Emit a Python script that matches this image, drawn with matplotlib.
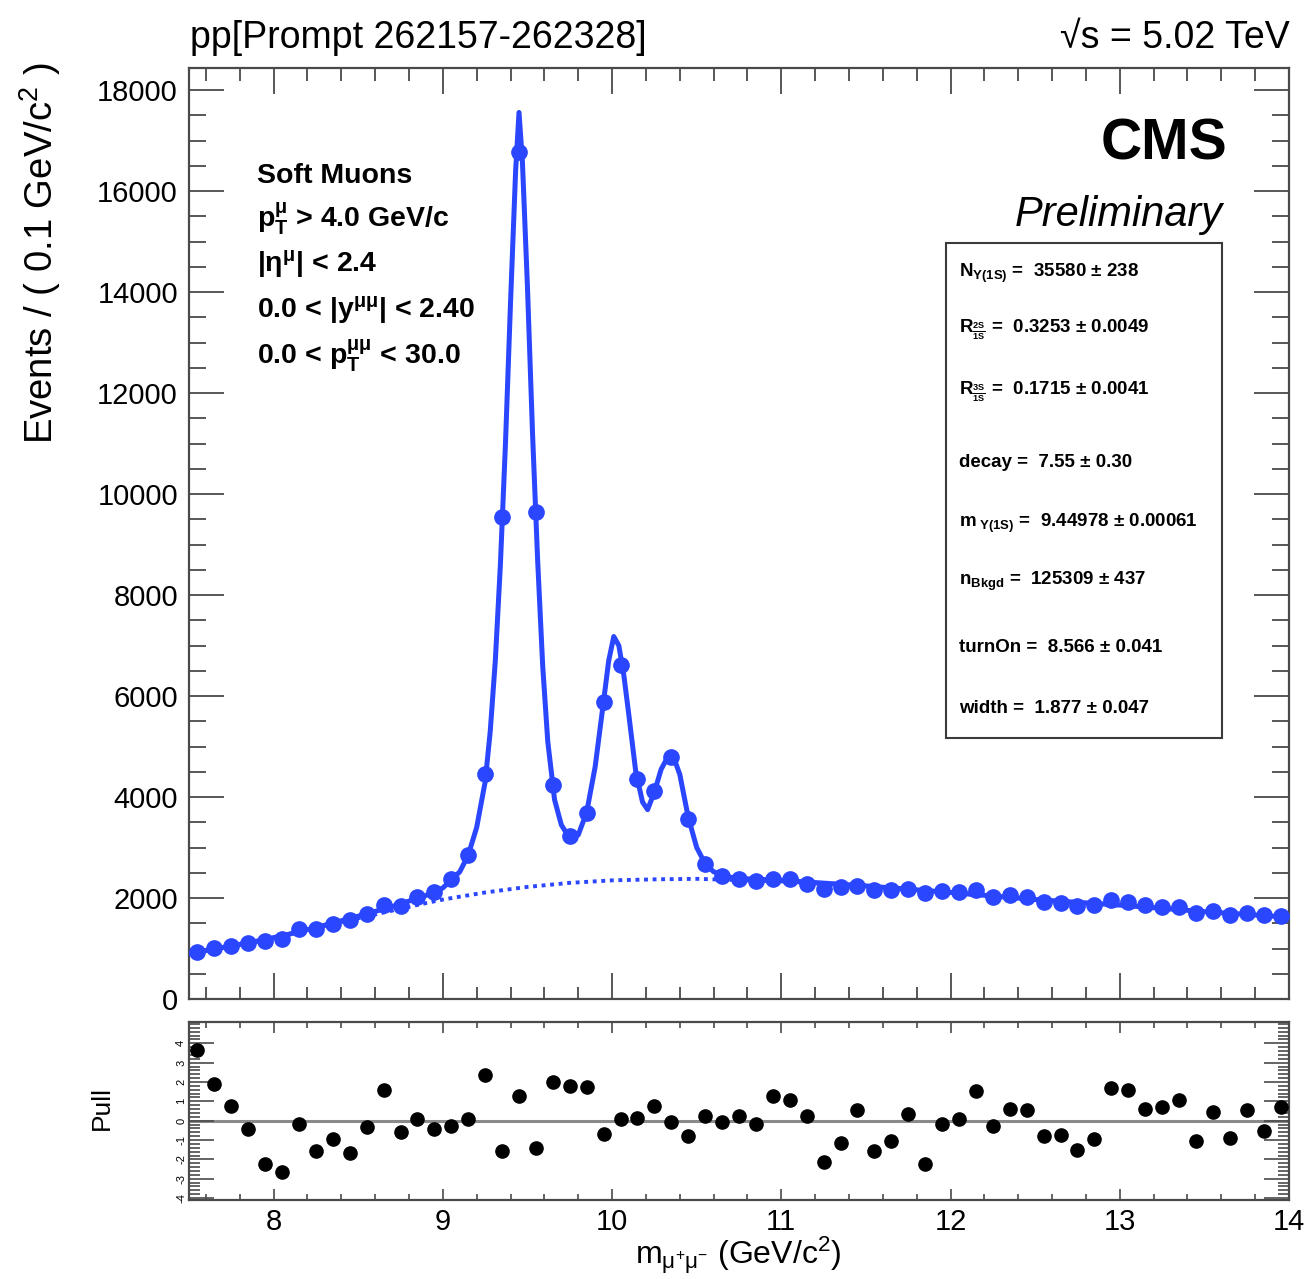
import numpy as np
import matplotlib
matplotlib.use("Agg")
import matplotlib.pyplot as plt
from matplotlib.ticker import MultipleLocator, FixedLocator, NullFormatter

plt.rcParams['font.family'] = ['Liberation Sans', 'DejaVu Sans']
plt.rcParams['mathtext.fontset'] = 'custom'
plt.rcParams['mathtext.rm'] = 'Liberation Sans'
plt.rcParams['mathtext.it'] = 'Liberation Sans:italic'
plt.rcParams['mathtext.bf'] = 'Liberation Sans:bold'
plt.rcParams['mathtext.default'] = 'regular'

# ---------------- data ----------------
mass_centers = np.round(np.arange(7.55, 14.0, 0.1), 2)   # 0.1 GeV bins, 7.5-14

events = [940, 1020, 1040, 1100, 1140, 1190, 1380, 1390, 1480, 1560,
          1690, 1860, 1840, 2020, 2120, 2370, 2860, 4460, 9540, 16770,
          9640, 4240, 3230, 3680, 5880, 6610, 4360, 4120, 4790, 3560,
          2670, 2440, 2380, 2330, 2370, 2370, 2280, 2170, 2220, 2240,
          2150, 2160, 2180, 2090, 2130, 2110, 2160, 2020, 2060, 2020,
          1920, 1900, 1840, 1860, 1960, 1920, 1860, 1820, 1820, 1700,
          1740, 1660, 1700, 1660, 1640]

pulls = [3.66, 1.91, 0.74, -0.43, -2.22, -2.66, -0.15, -1.58, -0.95, -1.67,
         -0.33, 1.60, -0.60, 0.09, -0.41, -0.26, 0.10, 2.34, -1.58, 1.25,
         -1.41, 1.98, 1.80, 1.72, -0.69, 0.09, 0.14, 0.74, -0.07, -0.77,
         0.26, -0.09, 0.22, -0.17, 1.25, 1.08, 0.26, -2.15, -1.15, 0.57,
         -1.58, -1.07, 0.34, -2.22, -0.17, 0.10, 1.51, -0.26, 0.62, 0.57,
         -0.81, -0.72, -1.49, -0.95, 1.68, 1.60, 0.62, 0.70, 1.05, -1.07,
         0.43, -0.89, 0.53, -0.55, 0.70]

fit_x = [7.5, 7.7, 7.9, 8.1, 8.3, 8.5, 8.7, 8.9, 9.0, 9.1, 9.15, 9.2, 9.25, 9.28,
         9.31, 9.34, 9.37, 9.40, 9.43, 9.45, 9.47, 9.50, 9.53, 9.56, 9.59, 9.62,
         9.66, 9.7, 9.75, 9.8, 9.85, 9.9, 9.95, 9.98, 10.01, 10.04, 10.07, 10.1,
         10.14, 10.18, 10.21, 10.25, 10.29, 10.33, 10.36, 10.4, 10.45, 10.5,
         10.55, 10.6, 10.7, 10.8, 11.0, 11.5, 12.0, 12.5, 13.0, 13.5, 14.0]
fit_y = [900, 1020, 1140, 1290, 1460, 1640, 1830, 2050, 2200, 2520, 2850, 3400, 4300, 5300,
         6700, 8600, 11000, 13800, 16400, 17560, 16600, 14100, 11200, 8700, 6600, 5100,
         3950, 3450, 3180, 3250, 3700, 4600, 5900, 6700, 7180, 7000, 6400, 5600,
         4500, 3900, 3750, 4100, 4550, 4800, 4820, 4450, 3600, 3000,
         2680, 2520, 2410, 2380, 2350, 2240, 2110, 1970, 1860, 1730, 1620]

bkg_x = [7.5, 8.0, 8.5, 8.9, 9.0, 9.25, 9.5, 9.75, 10.0, 10.25, 10.5, 11.0, 11.5,
         12.0, 12.5, 13.0, 13.5, 14.0]
bkg_y = [900, 1220, 1600, 1900, 1970, 2110, 2220, 2300, 2350, 2370, 2380, 2330, 2230,
         2100, 1970, 1850, 1730, 1620]

param_labels = [r'N$_{\Upsilon(1S)}$ =  35580 ± 238',
                r'R$_{\frac{2S}{1S}}$ =  0.3253 ± 0.0049',
                r'R$_{\frac{3S}{1S}}$ =  0.1715 ± 0.0041',
                r'decay =  7.55 ± 0.30',
                r'm$_{\ \Upsilon(1S)}$ =  9.44978 ± 0.00061',
                r'n$_{Bkgd}$ =  125309 ± 437',
                r'turnOn =  8.566 ± 0.041',
                r'width =  1.877 ± 0.047']

cut_labels = ['Soft Muons',
              r'p$_{T}^{\mu}$ > 4.0 GeV/c',
              r'|$\eta^{\mu}$| < 2.4',
              r'0.0 < |y$^{\mu\mu}$| < 2.40',
              r'0.0 < p$_{T}^{\mu\mu}$ < 30.0']

# ---------------- figure ----------------
W, H = 1305, 1279
fig = plt.figure(figsize=(W / 100, H / 100), dpi=100)

def ax_rect(l, t, r, b):
    return [l / W, 1 - b / H, (r - l) / W, (b - t) / H]

blue = '#2a46ff'
frame_c = '#4a4a4a'

ax = fig.add_axes(ax_rect(189, 68, 1289, 999))
axp = fig.add_axes(ax_rect(189, 1022, 1289, 1200))

# main panel
ax.plot(bkg_x, bkg_y, color=blue, lw=2.8, linestyle=(0, (1.0, 1.2)), zorder=2)
ax.plot(fit_x, fit_y, color=blue, lw=3.6, zorder=3, solid_joinstyle='round')
ax.plot(mass_centers, events, 'o', color=blue, ms=11, zorder=4)

ax.set_xlim(7.5, 14)
ax.set_ylim(0, 18440)
ax.xaxis.set_major_locator(MultipleLocator(1))
ax.xaxis.set_minor_locator(MultipleLocator(0.2))
ax.yaxis.set_major_locator(MultipleLocator(2000))
ax.yaxis.set_minor_locator(MultipleLocator(500))
ax.xaxis.set_major_formatter(NullFormatter())
ax.tick_params(axis='both', which='both', direction='in', top=True, right=True,
               color=frame_c, width=1.3)
ax.tick_params(axis='x', which='major', length=19)
ax.tick_params(axis='x', which='minor', length=9)
ax.tick_params(axis='y', which='major', length=25, labelsize=21, pad=8)
ax.tick_params(axis='y', which='minor', length=12)
for s in ax.spines.values():
    s.set_color(frame_c)
    s.set_linewidth(1.6)

# pull panel
axp.axhline(0, color='#8a8a8a', lw=2.2, zorder=1)
axp.plot(mass_centers, pulls, 'o', color='black', ms=9.5, zorder=3)
axp.set_xlim(7.5, 14)
axp.set_ylim(-4.1, 5.1)
axp.xaxis.set_major_locator(MultipleLocator(1))
axp.xaxis.set_minor_locator(MultipleLocator(0.2))
axp.yaxis.set_major_locator(FixedLocator([-4, -3, -2, -1, 0, 1, 2, 3, 4]))
axp.yaxis.set_minor_locator(MultipleLocator(0.2))
axp.set_yticklabels(['-4', '-3', '-2', '-1', '0', '1', '2', '3', '4'],
                    rotation=90, fontsize=8, va='center')
axp.tick_params(axis='both', which='both', direction='in', top=True, right=True,
                color=frame_c, width=1.2)
axp.tick_params(axis='x', which='major', length=8, labelsize=21, pad=6)
axp.tick_params(axis='x', which='minor', length=4)
axp.tick_params(axis='y', which='major', length=18, pad=2)
axp.tick_params(axis='y', which='minor', length=8)
for s in axp.spines.values():
    s.set_color(frame_c)
    s.set_linewidth(1.6)

# axis titles
fig.text(40 / W, 1 - 62 / H, r'Events / ( 0.1 GeV/c$^{2}$ )', rotation=90,
         ha='center', va='top', fontsize=27.5)
fig.text(738 / W, 1 - 1255 / H, r'm$_{\mu^{+}\mu^{-}}$ (GeV/c$^{2}$)',
         ha='center', va='center', fontsize=23)
fig.text(102 / W, 1 - 1108 / H, 'Pull', rotation=90, ha='center', va='center',
         fontsize=19)

# header texts
fig.text(190 / W, 1 - 48 / H, 'pp[Prompt 262157-262328]', ha='left',
         va='baseline', fontsize=27)
fig.text(1290 / W, 1 - 48 / H, '√s = 5.02 TeV', ha='right',
         va='baseline', fontsize=27)

# CMS labels
fig.text(1227 / W, 1 - 160 / H, 'CMS', ha='right', va='baseline',
         fontsize=41, fontweight='bold')
fig.text(1223 / W, 1 - 226 / H, 'Preliminary', ha='right', va='baseline',
         fontsize=30, fontstyle='italic')

# cut labels
cut_baselines = [183, 227, 272, 318, 364]
for lab, yb in zip(cut_labels, cut_baselines):
    fig.text(257 / W, 1 - yb / H, lab, ha='left', va='baseline',
             fontsize=20.5, fontweight='bold')

# parameter box
box = plt.Rectangle((946 / W, 1 - 738 / H), (1222 - 946) / W, (738 - 243) / H,
                    transform=fig.transFigure, fill=False, edgecolor='#3a3a3a',
                    lw=1.5)
fig.add_artist(box)
par_baselines = [277, 333, 395, 467, 527, 585, 652, 713]
for lab, yb in zip(param_labels, par_baselines):
    fig.text(959 / W, 1 - yb / H, lab, ha='left', va='baseline',
             fontsize=13.5, fontweight='bold')

fig.savefig('out.png', dpi=100)
